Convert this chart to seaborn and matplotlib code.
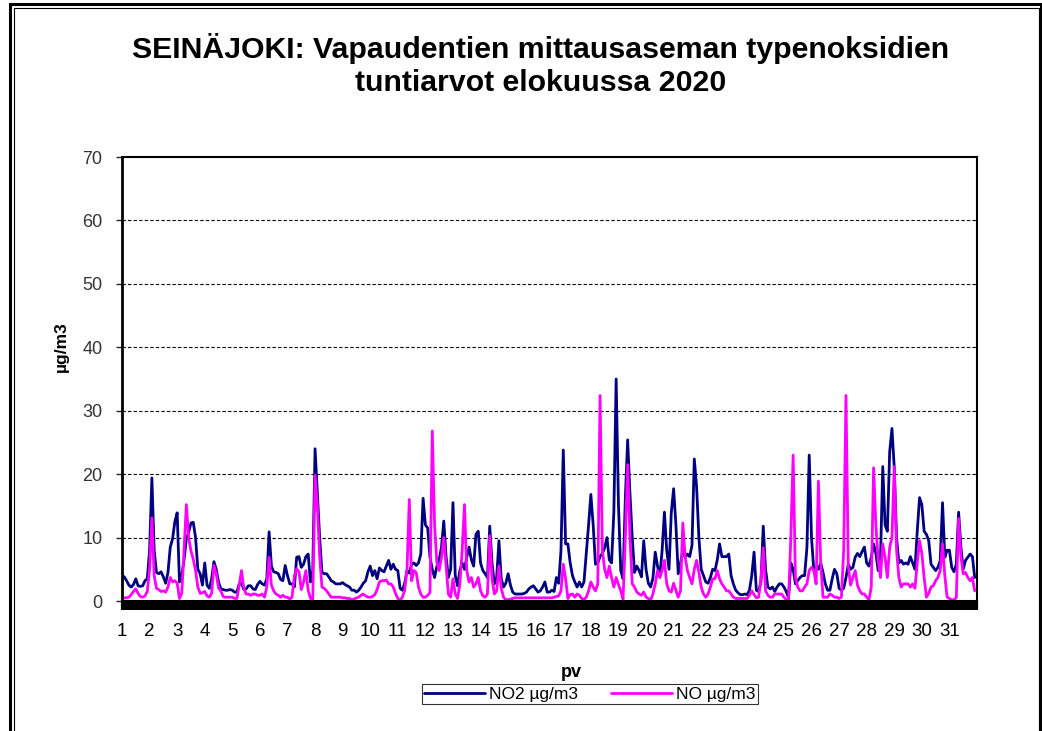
import numpy as np
import pandas as pd
import matplotlib
matplotlib.use('Agg')
import matplotlib.pyplot as plt
import seaborn as sns
from matplotlib.patches import Rectangle

# 2-hour readings, one row per day (1..31 August 2020)
no2 = [
    4.0, 3.8, 3.2, 2.5, 2.2, 2.6, 3.5, 2.4, 2.3, 2.4, 3.2, 3.5,
    8.0, 19.4, 8.0, 4.5, 4.3, 4.6, 3.8, 2.8, 4.5, 8.5, 9.8, 12.5,
    13.9, 3.0, 4.0, 6.5, 9.8, 10.8, 12.3, 12.4, 10.0, 5.0, 4.3, 2.5,
    6.0, 2.5, 2.0, 3.5, 6.2, 5.0, 3.0, 1.9, 1.8, 1.7, 1.7, 1.8,
    1.7, 1.4, 1.4, 2.7, 2.8, 1.8, 1.9, 2.4, 2.4, 1.9, 1.8, 2.6,
    3.1, 2.7, 2.5, 3.5, 10.9, 5.5, 4.6, 4.5, 4.3, 3.4, 3.2, 5.6,
    4.0, 2.7, 2.7, 2.2, 6.9, 7.0, 5.3, 5.8, 7.0, 7.4, 3.0, 4.8,
    24.0, 17.0, 10.0, 4.5, 4.3, 4.3, 3.8, 3.2, 3.0, 2.7, 2.7, 2.7,
    2.9, 2.6, 2.4, 2.2, 1.7, 1.7, 1.4, 1.7, 2.2, 2.8, 3.2, 4.6,
    5.5, 4.0, 4.8, 3.5, 5.2, 4.8, 4.6, 5.5, 6.4, 5.0, 5.8, 5.0,
    4.8, 2.0, 1.7, 2.8, 4.8, 4.4, 5.8, 6.0, 5.6, 6.0, 7.4, 16.2,
    12.0, 11.5, 6.9, 5.0, 3.7, 5.5, 6.5, 8.5, 12.6, 7.0, 3.7, 5.0,
    15.5, 4.0, 2.4, 4.8, 6.0, 5.0, 6.9, 8.5, 6.5, 5.5, 10.5, 11.0,
    6.0, 4.8, 4.3, 3.7, 11.8, 6.0, 2.7, 3.7, 9.5, 3.5, 2.2, 2.8,
    4.3, 2.5, 1.4, 1.1, 1.1, 1.1, 1.1, 1.2, 1.4, 1.9, 2.2, 2.4,
    1.9, 1.4, 1.6, 2.2, 3.0, 1.4, 1.4, 1.7, 1.5, 3.7, 2.8, 8.0,
    23.8, 9.0, 9.0, 6.0, 4.0, 3.0, 2.2, 3.0, 2.2, 3.0, 7.4, 12.0,
    16.8, 12.0, 5.8, 6.0, 7.0, 7.5, 8.4, 10.0, 6.5, 6.0, 14.0, 35.0,
    15.2, 4.8, 3.5, 16.3, 25.4, 17.0, 10.0, 4.5, 5.5, 4.8, 3.8, 9.5,
    5.0, 2.8, 2.2, 3.6, 7.7, 5.5, 3.8, 8.0, 14.0, 8.0, 5.0, 14.0,
    17.7, 12.0, 4.3, 6.0, 8.0, 6.9, 7.4, 7.0, 8.8, 22.4, 18.0, 10.0,
    5.0, 4.0, 3.0, 2.8, 3.7, 5.0, 4.8, 6.5, 9.0, 7.0, 7.0, 7.0,
    7.4, 4.0, 2.7, 1.7, 1.3, 1.0, 1.0, 1.1, 1.0, 1.7, 4.0, 7.7,
    1.7, 1.5, 3.0, 11.8, 5.0, 2.2, 1.9, 2.2, 1.5, 2.2, 2.7, 2.7,
    2.2, 1.5, 0.5, 6.0, 5.0, 2.7, 3.2, 3.7, 4.0, 4.0, 8.4, 23.0,
    10.0, 4.8, 5.3, 5.0, 6.0, 4.5, 2.7, 1.7, 1.7, 3.5, 5.0, 4.3,
    2.0, 1.7, 2.0, 3.7, 5.8, 5.0, 5.3, 6.9, 7.5, 7.0, 7.8, 8.5,
    6.0, 5.5, 6.9, 9.0, 7.5, 4.8, 6.5, 21.2, 12.0, 11.0, 23.5, 27.2,
    21.0, 10.0, 6.0, 6.4, 5.8, 6.0, 5.8, 7.0, 6.0, 5.0, 11.0, 16.3,
    15.2, 11.0, 10.5, 9.5, 5.8, 5.3, 4.8, 5.3, 6.4, 15.5, 6.9, 8.0,
    8.0, 5.3, 4.6, 5.8, 14.0, 8.5, 5.0, 6.4, 6.9, 7.4, 7.0, 3.7,
]

no = [
    0.4, 0.5, 0.5, 0.6, 1.0, 1.5, 1.9, 1.2, 0.7, 0.6, 0.8, 1.5,
    5.0, 13.1, 4.0, 2.0, 1.8, 1.5, 1.6, 1.4, 2.2, 3.7, 3.0, 3.2,
    2.8, 0.4, 1.2, 8.0, 15.2, 10.0, 7.9, 6.6, 4.8, 2.2, 1.2, 1.3,
    1.5, 0.8, 0.6, 1.2, 5.6, 4.3, 2.0, 1.6, 0.7, 0.6, 0.6, 0.6,
    0.6, 0.4, 0.4, 2.5, 4.8, 2.0, 1.1, 1.1, 0.9, 1.1, 1.1, 0.9,
    0.9, 1.1, 0.6, 2.2, 6.9, 2.5, 1.6, 1.1, 0.9, 0.6, 0.9, 0.6,
    0.6, 0.3, 0.6, 4.0, 5.1, 4.6, 1.8, 3.0, 4.8, 1.7, 0.4, 0.2,
    19.8, 15.0, 7.0, 2.2, 2.0, 1.6, 1.1, 0.6, 0.6, 0.6, 0.6, 0.6,
    0.5, 0.5, 0.4, 0.4, 0.2, 0.3, 0.5, 0.6, 0.9, 1.1, 0.8, 0.6,
    0.6, 0.7, 1.0, 1.8, 3.0, 3.2, 3.2, 3.3, 2.7, 2.7, 2.2, 1.2,
    0.4, 0.1, 0.6, 1.7, 5.0, 16.0, 3.2, 4.8, 4.5, 2.2, 1.1, 0.6,
    0.6, 0.9, 1.3, 26.8, 12.0, 6.0, 4.8, 6.9, 10.0, 5.5, 1.1, 0.6,
    3.5, 1.1, 0.4, 2.7, 8.0, 15.2, 4.8, 3.0, 3.7, 2.2, 2.7, 3.7,
    1.6, 0.8, 0.6, 1.1, 10.3, 3.5, 1.1, 1.6, 5.5, 2.0, 0.6, 0.2,
    0.2, 0.3, 0.4, 0.5, 0.5, 0.5, 0.5, 0.5, 0.5, 0.5, 0.5, 0.5,
    0.5, 0.5, 0.5, 0.5, 0.5, 0.5, 0.5, 0.5, 0.6, 0.7, 0.8, 1.6,
    5.8, 3.5, 0.4, 1.0, 1.1, 0.6, 1.1, 0.9, 0.4, 0.2, 0.6, 1.6,
    3.0, 2.2, 1.6, 2.7, 32.4, 8.0, 5.0, 3.7, 5.5, 3.7, 2.2, 3.7,
    2.6, 1.6, 0.3, 10.0, 21.5, 10.0, 2.7, 2.2, 1.4, 1.1, 0.9, 1.4,
    0.6, 0.4, 0.1, 1.1, 2.7, 4.8, 3.7, 4.8, 6.4, 2.7, 1.6, 1.4,
    2.8, 1.7, 0.6, 1.6, 12.3, 7.0, 4.8, 3.7, 2.7, 5.0, 6.4, 4.5,
    2.2, 1.1, 0.6, 1.1, 2.2, 3.5, 3.5, 4.8, 3.5, 2.7, 2.2, 1.6,
    1.6, 1.1, 0.6, 0.4, 0.4, 0.4, 0.4, 0.4, 0.4, 0.9, 1.6, 1.0,
    0.5, 0.6, 3.5, 8.4, 1.6, 0.9, 0.6, 0.6, 1.1, 1.1, 1.1, 1.1,
    0.6, 0.2, 0.1, 10.0, 23.0, 3.7, 2.2, 1.6, 1.6, 2.2, 2.7, 4.8,
    5.3, 4.8, 2.7, 18.9, 6.0, 0.6, 0.6, 0.6, 1.1, 0.9, 0.6, 0.6,
    0.4, 0.6, 8.0, 32.4, 5.5, 2.5, 3.7, 4.8, 2.5, 1.6, 1.1, 1.1,
    0.6, 0.2, 2.2, 21.0, 12.0, 6.5, 3.7, 9.0, 6.9, 3.7, 8.4, 10.0,
    21.2, 8.0, 3.7, 2.2, 2.7, 2.7, 2.7, 2.2, 2.7, 2.0, 6.0, 9.5,
    7.5, 3.7, 0.6, 1.2, 2.2, 2.4, 3.2, 3.7, 4.8, 9.0, 4.0, 0.6,
    0.4, 0.2, 0.2, 0.5, 13.0, 7.0, 4.3, 4.5, 3.7, 3.2, 3.7, 1.6,
]

days = list(range(1, 32))
hours = np.arange(0, 24 * len(days), 2)
series_names = ['NO2 µg/m3', 'NO µg/m3']
colors = ['#000080', '#FF00FF']

df = pd.DataFrame({
    'hour': np.concatenate([hours, hours]),
    'value': no2 + no,
    'series': [series_names[0]] * len(no2) + [series_names[1]] * len(no),
})

sns.set_style('white')
plt.rcParams['font.family'] = ['Liberation Sans', 'DejaVu Sans']
plt.rcParams['text.color'] = 'black'

fig = plt.figure(figsize=(10.42, 7.31), dpi=100, facecolor='white')
ax = fig.add_axes([122 / 1042, 1 - 601 / 731, 855 / 1042, 444 / 731])

sns.lineplot(data=df, x='hour', y='value', hue='series', palette=colors,
             linewidth=2.0, ax=ax, legend=False)

ax.set_xlim(0, 24 * len(days))
ax.set_ylim(0, 70)
ax.set_yticks(range(0, 71, 10))
ax.set_xticks([24 * (d - 1) for d in days])
ax.set_xticklabels([str(d) for d in days])
ax.set_xticks(np.arange(0, 24 * len(days) + 1), minor=True)

for y in range(10, 70, 10):
    ax.axhline(y, color='black', linestyle=(0, (3, 2)), linewidth=0.8, zorder=0)

for s in ax.spines.values():
    s.set_color('black')
    s.set_linewidth(1.5)
ax.spines['left'].set_linewidth(2)

ax.tick_params(axis='x', which='both', length=6.5, width=1.6, direction='out',
               color='black', bottom=True)
ax.tick_params(axis='x', which='major', pad=9, labelsize=13.5, labelcolor='black')
ax.tick_params(axis='y', which='major', length=4, width=1, direction='out',
               left=True, pad=10, labelsize=13, labelcolor='#333333')

ax.set_xlabel('pv', fontsize=13, fontweight='bold', color='black')
ax.xaxis.set_label_coords((571 - 122) / 855, -0.143)
ax.xaxis.label.set_va('top')
ax.set_ylabel('µg/m3', fontsize=12.5, fontweight='bold', color='black')
ax.yaxis.set_label_coords(-0.062, 0.574)

fig.text(541 / 1042, 1 - 48 / 731, 'SEINÄJOKI: Vapaudentien mittausaseman typenoksidien',
         ha='center', va='center', fontsize=21.8, fontweight='bold', color='black')
fig.text(541 / 1042, 1 - 83 / 731, 'tuntiarvot elokuussa 2020',
         ha='center', va='center', fontsize=21.8, fontweight='bold', color='black')

handles = [plt.Line2D([], [], color=c, linewidth=2.0) for c in colors]
leg = fig.legend(handles, series_names, loc='center', ncol=2,
                 bbox_to_anchor=(590 / 1042, 1 - 694 / 731), bbox_transform=fig.transFigure,
                 fontsize=12.5, frameon=True, fancybox=False, handlelength=3.5,
                 columnspacing=1.9, handletextpad=0.25, borderpad=0.15, borderaxespad=0)
leg.get_frame().set_edgecolor('black')
leg.get_frame().set_linewidth(0.8)
for t in leg.get_texts():
    t.set_color('black')

# chart area border (double line)
fig.patches.append(Rectangle((10 / 1042, -0.1), 1031 / 1042, 1.1 - 4 / 731, transform=fig.transFigure,
                             fill=False, edgecolor='black', linewidth=2.2))
fig.patches.append(Rectangle((14 / 1042, -0.1), 1025 / 1042, 1.1 - 8 / 731, transform=fig.transFigure,
                             fill=False, edgecolor='black', linewidth=0.8))

fig.savefig('out.png', dpi=100, facecolor='white')
